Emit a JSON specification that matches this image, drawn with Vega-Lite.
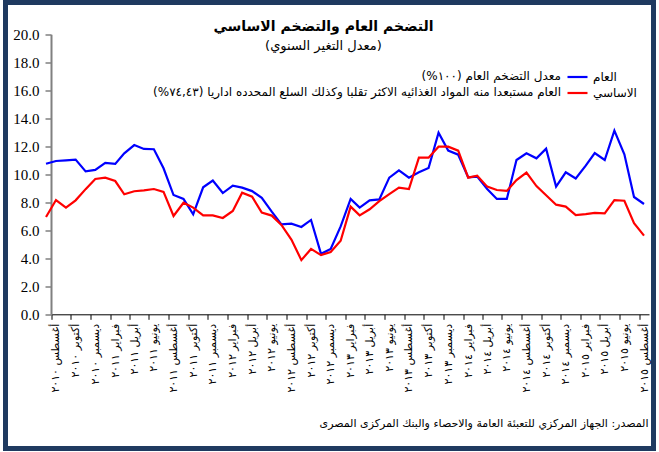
{
  "$schema": "https://vega.github.io/schema/vega-lite/v6.json",
  "width": 648,
  "height": 446,
  "autosize": {"type": "none"},
  "padding": {"left": 5.5, "top": 2.5, "right": 5.5, "bottom": 3.5},
  "background": "#ffffff",
  "config": {"view": {"stroke": "#1F3A60", "strokeWidth": 5}},
  "title": {
    "text": "التضخم العام والتضخم الاساسي",
    "subtitle": "(معدل التغير السنوي)",
    "anchor": "middle",
    "frame": "group",
    "offset": -50,
    "dx": -6,
    "font": "DejaVu Sans",
    "fontSize": 14,
    "fontWeight": "bold",
    "color": "#000000",
    "subtitleFont": "DejaVu Sans",
    "subtitleFontSize": 13,
    "subtitleColor": "#000000",
    "subtitlePadding": 6
  },
  "datasets": {
    "seriesInfo": [
      {"series": "general", "name": "العام", "desc": "معدل التضخم العام (١٠٠%)"},
      {"series": "core", "name": "الاساسي", "desc": "العام مستبعدا منه المواد الغذائيه الاكثر تقلبا وكذلك السلع المحدده اداريا (٧٤,٤٣%)"}
    ],
    "inflation": [
      {"date": "2010-07-01", "series": "general", "value": 10.75},
      {"date": "2010-08-01", "series": "general", "value": 10.95},
      {"date": "2010-09-01", "series": "general", "value": 11.0},
      {"date": "2010-10-01", "series": "general", "value": 11.05},
      {"date": "2010-11-01", "series": "general", "value": 10.21},
      {"date": "2010-12-01", "series": "general", "value": 10.31},
      {"date": "2011-01-01", "series": "general", "value": 10.81},
      {"date": "2011-02-01", "series": "general", "value": 10.74},
      {"date": "2011-03-01", "series": "general", "value": 11.5},
      {"date": "2011-04-01", "series": "general", "value": 12.09},
      {"date": "2011-05-01", "series": "general", "value": 11.81},
      {"date": "2011-06-01", "series": "general", "value": 11.79},
      {"date": "2011-07-01", "series": "general", "value": 10.43},
      {"date": "2011-08-01", "series": "general", "value": 8.52},
      {"date": "2011-09-01", "series": "general", "value": 8.24},
      {"date": "2011-10-01", "series": "general", "value": 7.14},
      {"date": "2011-11-01", "series": "general", "value": 9.07},
      {"date": "2011-12-01", "series": "general", "value": 9.55},
      {"date": "2012-01-01", "series": "general", "value": 8.66},
      {"date": "2012-02-01", "series": "general", "value": 9.19},
      {"date": "2012-03-01", "series": "general", "value": 9.05},
      {"date": "2012-04-01", "series": "general", "value": 8.8},
      {"date": "2012-05-01", "series": "general", "value": 8.32},
      {"date": "2012-06-01", "series": "general", "value": 7.33},
      {"date": "2012-07-01", "series": "general", "value": 6.42},
      {"date": "2012-08-01", "series": "general", "value": 6.47},
      {"date": "2012-09-01", "series": "general", "value": 6.24},
      {"date": "2012-10-01", "series": "general", "value": 6.74},
      {"date": "2012-11-01", "series": "general", "value": 4.32},
      {"date": "2012-12-01", "series": "general", "value": 4.66},
      {"date": "2013-01-01", "series": "general", "value": 6.28},
      {"date": "2013-02-01", "series": "general", "value": 8.24},
      {"date": "2013-03-01", "series": "general", "value": 7.62},
      {"date": "2013-04-01", "series": "general", "value": 8.14},
      {"date": "2013-05-01", "series": "general", "value": 8.21},
      {"date": "2013-06-01", "series": "general", "value": 9.76},
      {"date": "2013-07-01", "series": "general", "value": 10.28},
      {"date": "2013-08-01", "series": "general", "value": 9.76},
      {"date": "2013-09-01", "series": "general", "value": 10.14},
      {"date": "2013-10-01", "series": "general", "value": 10.45},
      {"date": "2013-11-01", "series": "general", "value": 12.97},
      {"date": "2013-12-01", "series": "general", "value": 11.69},
      {"date": "2014-01-01", "series": "general", "value": 11.4},
      {"date": "2014-02-01", "series": "general", "value": 9.79},
      {"date": "2014-03-01", "series": "general", "value": 9.83},
      {"date": "2014-04-01", "series": "general", "value": 8.95},
      {"date": "2014-05-01", "series": "general", "value": 8.24},
      {"date": "2014-06-01", "series": "general", "value": 8.24},
      {"date": "2014-07-01", "series": "general", "value": 11.02},
      {"date": "2014-08-01", "series": "general", "value": 11.5},
      {"date": "2014-09-01", "series": "general", "value": 11.14},
      {"date": "2014-10-01", "series": "general", "value": 11.83},
      {"date": "2014-11-01", "series": "general", "value": 9.12},
      {"date": "2014-12-01", "series": "general", "value": 10.14},
      {"date": "2015-01-01", "series": "general", "value": 9.7},
      {"date": "2015-02-01", "series": "general", "value": 10.62},
      {"date": "2015-03-01", "series": "general", "value": 11.52},
      {"date": "2015-04-01", "series": "general", "value": 11.02},
      {"date": "2015-05-01", "series": "general", "value": 13.12},
      {"date": "2015-06-01", "series": "general", "value": 11.43},
      {"date": "2015-07-01", "series": "general", "value": 8.38},
      {"date": "2015-08-01", "series": "general", "value": 7.88},
      {"date": "2010-07-01", "series": "core", "value": 6.95},
      {"date": "2010-08-01", "series": "core", "value": 8.16},
      {"date": "2010-09-01", "series": "core", "value": 7.62},
      {"date": "2010-10-01", "series": "core", "value": 8.14},
      {"date": "2010-11-01", "series": "core", "value": 8.94},
      {"date": "2010-12-01", "series": "core", "value": 9.67},
      {"date": "2011-01-01", "series": "core", "value": 9.76},
      {"date": "2011-02-01", "series": "core", "value": 9.52},
      {"date": "2011-03-01", "series": "core", "value": 8.57},
      {"date": "2011-04-01", "series": "core", "value": 8.79},
      {"date": "2011-05-01", "series": "core", "value": 8.85},
      {"date": "2011-06-01", "series": "core", "value": 8.95},
      {"date": "2011-07-01", "series": "core", "value": 8.74},
      {"date": "2011-08-01", "series": "core", "value": 7.02},
      {"date": "2011-09-01", "series": "core", "value": 7.97},
      {"date": "2011-10-01", "series": "core", "value": 7.62},
      {"date": "2011-11-01", "series": "core", "value": 7.07},
      {"date": "2011-12-01", "series": "core", "value": 7.07},
      {"date": "2012-01-01", "series": "core", "value": 6.88},
      {"date": "2012-02-01", "series": "core", "value": 7.38},
      {"date": "2012-03-01", "series": "core", "value": 8.69},
      {"date": "2012-04-01", "series": "core", "value": 8.4},
      {"date": "2012-05-01", "series": "core", "value": 7.26},
      {"date": "2012-06-01", "series": "core", "value": 7.05},
      {"date": "2012-07-01", "series": "core", "value": 6.38},
      {"date": "2012-08-01", "series": "core", "value": 5.34},
      {"date": "2012-09-01", "series": "core", "value": 3.87},
      {"date": "2012-10-01", "series": "core", "value": 4.67},
      {"date": "2012-11-01", "series": "core", "value": 4.23},
      {"date": "2012-12-01", "series": "core", "value": 4.45},
      {"date": "2013-01-01", "series": "core", "value": 5.25},
      {"date": "2013-02-01", "series": "core", "value": 7.69},
      {"date": "2013-03-01", "series": "core", "value": 7.07},
      {"date": "2013-04-01", "series": "core", "value": 7.5},
      {"date": "2013-05-01", "series": "core", "value": 8.09},
      {"date": "2013-06-01", "series": "core", "value": 8.59},
      {"date": "2013-07-01", "series": "core", "value": 9.05},
      {"date": "2013-08-01", "series": "core", "value": 8.95},
      {"date": "2013-09-01", "series": "core", "value": 11.19},
      {"date": "2013-10-01", "series": "core", "value": 11.19},
      {"date": "2013-11-01", "series": "core", "value": 11.97},
      {"date": "2013-12-01", "series": "core", "value": 11.97},
      {"date": "2014-01-01", "series": "core", "value": 11.69},
      {"date": "2014-02-01", "series": "core", "value": 9.76},
      {"date": "2014-03-01", "series": "core", "value": 9.9},
      {"date": "2014-04-01", "series": "core", "value": 9.12},
      {"date": "2014-05-01", "series": "core", "value": 8.88},
      {"date": "2014-06-01", "series": "core", "value": 8.81},
      {"date": "2014-07-01", "series": "core", "value": 9.59},
      {"date": "2014-08-01", "series": "core", "value": 10.12},
      {"date": "2014-09-01", "series": "core", "value": 9.16},
      {"date": "2014-10-01", "series": "core", "value": 8.5},
      {"date": "2014-11-01", "series": "core", "value": 7.83},
      {"date": "2014-12-01", "series": "core", "value": 7.69},
      {"date": "2015-01-01", "series": "core", "value": 7.09},
      {"date": "2015-02-01", "series": "core", "value": 7.16},
      {"date": "2015-03-01", "series": "core", "value": 7.24},
      {"date": "2015-04-01", "series": "core", "value": 7.21},
      {"date": "2015-05-01", "series": "core", "value": 8.16},
      {"date": "2015-06-01", "series": "core", "value": 8.11},
      {"date": "2015-07-01", "series": "core", "value": 6.5},
      {"date": "2015-08-01", "series": "core", "value": 5.62}
    ]
  },
  "data": {"name": "inflation"},
  "transform": [
    {"lookup": "series", "from": {"data": {"name": "seriesInfo"}, "key": "series", "fields": ["name", "desc"]}}
  ],
  "mark": {"type": "line", "strokeWidth": 2.2, "clip": true},
  "encoding": {
    "x": {
      "field": "date",
      "type": "temporal",
      "scale": {
        "type": "utc",
        "domain": [
          {"year": 2010, "month": 7, "date": 16, "hours": 12, "utc": true},
          {"year": 2015, "month": 8, "date": 16, "hours": 12, "utc": true}
        ],
        "range": [45.5, 643.5]
      },
      "axis": {
        "values": [
          {"year": 2010, "month": 8, "date": 1, "utc": true},
          {"year": 2010, "month": 10, "date": 1, "utc": true},
          {"year": 2010, "month": 12, "date": 1, "utc": true},
          {"year": 2011, "month": 2, "date": 1, "utc": true},
          {"year": 2011, "month": 4, "date": 1, "utc": true},
          {"year": 2011, "month": 6, "date": 1, "utc": true},
          {"year": 2011, "month": 8, "date": 1, "utc": true},
          {"year": 2011, "month": 10, "date": 1, "utc": true},
          {"year": 2011, "month": 12, "date": 1, "utc": true},
          {"year": 2012, "month": 2, "date": 1, "utc": true},
          {"year": 2012, "month": 4, "date": 1, "utc": true},
          {"year": 2012, "month": 6, "date": 1, "utc": true},
          {"year": 2012, "month": 8, "date": 1, "utc": true},
          {"year": 2012, "month": 10, "date": 1, "utc": true},
          {"year": 2012, "month": 12, "date": 1, "utc": true},
          {"year": 2013, "month": 2, "date": 1, "utc": true},
          {"year": 2013, "month": 4, "date": 1, "utc": true},
          {"year": 2013, "month": 6, "date": 1, "utc": true},
          {"year": 2013, "month": 8, "date": 1, "utc": true},
          {"year": 2013, "month": 10, "date": 1, "utc": true},
          {"year": 2013, "month": 12, "date": 1, "utc": true},
          {"year": 2014, "month": 2, "date": 1, "utc": true},
          {"year": 2014, "month": 4, "date": 1, "utc": true},
          {"year": 2014, "month": 6, "date": 1, "utc": true},
          {"year": 2014, "month": 8, "date": 1, "utc": true},
          {"year": 2014, "month": 10, "date": 1, "utc": true},
          {"year": 2014, "month": 12, "date": 1, "utc": true},
          {"year": 2015, "month": 2, "date": 1, "utc": true},
          {"year": 2015, "month": 4, "date": 1, "utc": true},
          {"year": 2015, "month": 6, "date": 1, "utc": true},
          {"year": 2015, "month": 8, "date": 1, "utc": true}
        ],
        "labelExpr": "['يناير','فبراير','مارس','أبريل','مايو','يونيو','يوليو','أغسطس','سبتمبر','أكتوبر','نوفمبر','ديسمبر'][utcmonth(datum.value)] + ' ' + ['٢٠١٠','٢٠١١','٢٠١٢','٢٠١٣','٢٠١٤','٢٠١٥'][utcyear(datum.value) - 2010]",
        "labelAngle": -90,
        "labelFont": "DejaVu Sans",
        "labelFontSize": 11,
        "labelColor": "#000000",
        "labelPadding": 4,
        "labelOverlap": false,
        "labelFlush": false,
        "labelOffset": 4.9,
        "tickOffset": -4.9,
        "tickColor": "#000000",
        "tickSize": 5,
        "tickWidth": 1,
        "domainColor": "#000000",
        "domainWidth": 1,
        "offset": -134.2,
        "grid": false,
        "title": "المصدر:  الجهاز المركزي للتعبئة العامة والاحصاء والبنك المركزى المصرى",
        "titleFont": "DejaVu Sans",
        "titleFontSize": 11,
        "titleFontWeight": "normal",
        "titleColor": "#000000",
        "titleAnchor": "end",
        "titleAlign": "right",
        "titleBaseline": "middle",
        "titleX": 642.5,
        "titleY": 108.7
      }
    },
    "y": {
      "field": "value",
      "type": "quantitative",
      "scale": {"domain": [0, 20], "nice": false, "zero": false, "range": [311.8, 31.8]},
      "axis": {
        "title": null,
        "values": [0, 2, 4, 6, 8, 10, 12, 14, 16, 18, 20],
        "format": ".1f",
        "offset": -45.5,
        "grid": false,
        "domainColor": "#808080",
        "domainWidth": 2,
        "tickColor": "#808080",
        "tickWidth": 1.5,
        "tickSize": 6,
        "labelFont": "Liberation Serif",
        "labelFontSize": 15,
        "labelColor": "#000000",
        "labelPadding": 6
      }
    },
    "color": {
      "field": "name",
      "type": "nominal",
      "scale": {"domain": ["العام", "الاساسي"], "range": ["#0000FF", "#FF0000"]},
      "legend": {
        "title": null,
        "orient": "none",
        "legendX": 562.5,
        "legendY": 65,
        "direction": "vertical",
        "padding": 0,
        "symbolType": "M-1.25,0H1.25",
        "symbolSize": 256,
        "symbolStrokeWidth": 2.2,
        "labelFont": "DejaVu Sans",
        "labelFontSize": 12,
        "labelColor": "#000000",
        "labelOffset": 6,
        "rowPadding": 0
      }
    },
    "opacity": {
      "field": "desc",
      "type": "ordinal",
      "scale": {
        "domain": ["معدل التضخم العام (١٠٠%)", "العام مستبعدا منه المواد الغذائيه الاكثر تقلبا وكذلك السلع المحدده اداريا (٧٤,٤٣%)"],
        "range": [1, 1]
      },
      "legend": {
        "title": null,
        "orient": "none",
        "legendX": 543.5,
        "legendY": 67,
        "direction": "vertical",
        "padding": 0,
        "symbolSize": 0,
        "symbolOpacity": 0,
        "symbolStrokeWidth": 0,
        "labelAlign": "right",
        "labelOffset": 0,
        "labelLimit": 700,
        "labelFont": "DejaVu Sans",
        "labelFontSize": 12,
        "labelColor": "#000000",
        "rowPadding": 4
      }
    }
  }
}
